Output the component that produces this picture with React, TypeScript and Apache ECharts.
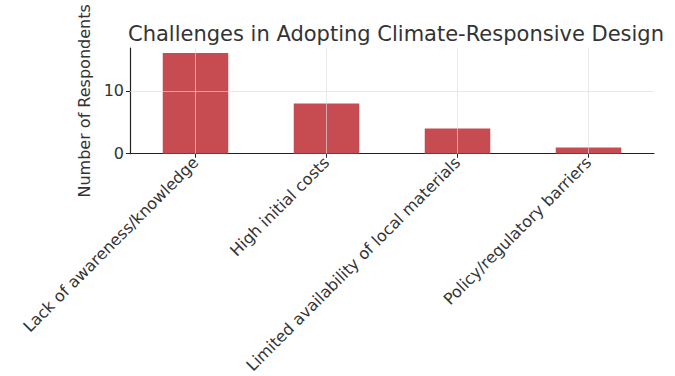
import React, { useEffect, useRef } from "react";
import * as echarts from "echarts";

const categories = [
  "Lack of awareness/knowledge",
  "High initial costs",
  "Limited availability of local materials",
  "Policy/regulatory barriers",
];
const respondents = [16, 8, 4, 1];
const yTicks = [0, 10];

const FONT = "DejaVu Sans";
const TEXT = "#333333";
const GRID = "#dcdcdc";

export default function App() {
  const ref = useRef<HTMLDivElement>(null);

  useEffect(() => {
    if (!ref.current) return;
    const chart = echarts.init(ref.current, null, { renderer: "svg" });
    const yMax = Math.max(...respondents) * 1.05;
    chart.setOption({
      animation: false,
      backgroundColor: "#ffffff",
      title: {
        text: "Challenges in Adopting Climate-Responsive Design",
        left: 391,
        textAlign: "center",
        top: 18,
        textStyle: { fontFamily: FONT, fontSize: 21, fontWeight: "normal", color: TEXT },
      },
      grid: { left: 130, right: 21, top: 48, bottom: 222, containLabel: false },
      xAxis: {
        type: "category",
        data: categories,
        boundaryGap: true,
        axisLine: { show: true, lineStyle: { color: "#222", width: 1.2 } },
        axisTick: { show: true, alignWithLabel: true, length: 4, lineStyle: { color: "#222" } },
        axisLabel: {
          rotate: 45,
          interval: 0,
          margin: 6,
          fontFamily: FONT,
          fontSize: 16,
          color: TEXT,
        },
        splitLine: { show: false },
      },
      yAxis: {
        type: "value",
        min: 0,
        max: yMax,
        interval: 10,
        name: "Number of Respondents",
        nameLocation: "middle",
        nameGap: 30,
        nameTextStyle: { fontFamily: FONT, fontSize: 16, color: TEXT },
        axisLine: { show: true, lineStyle: { color: "#222", width: 1.2 } },
        axisTick: { show: true, length: 4, customValues: yTicks, lineStyle: { color: "#222" } },
        axisLabel: {
          customValues: yTicks,
          margin: 6,
          fontFamily: FONT,
          fontSize: 16,
          color: TEXT,
        },
        splitLine: { show: false },
      },
      series: [
        {
          type: "bar",
          data: respondents,
          barWidth: "50%",
          itemStyle: { color: "#c0393f", opacity: 0.9 },
          markLine: {
            silent: true,
            symbol: "none",
            label: { show: false },
            lineStyle: { color: GRID, type: "solid", width: 0.8, opacity: 0.8 },
            data: [
              ...yTicks.filter((v) => v > 0).map((v) => ({ yAxis: v })),
              ...categories.map((c) => ({ xAxis: c })),
            ],
          },
        },
      ],
    });
    return () => chart.dispose();
  }, []);

  return (
    <div
      ref={ref}
      style={{ position: "fixed", left: 0, top: 0, width: 675, height: 376 }}
    />
  );
}
